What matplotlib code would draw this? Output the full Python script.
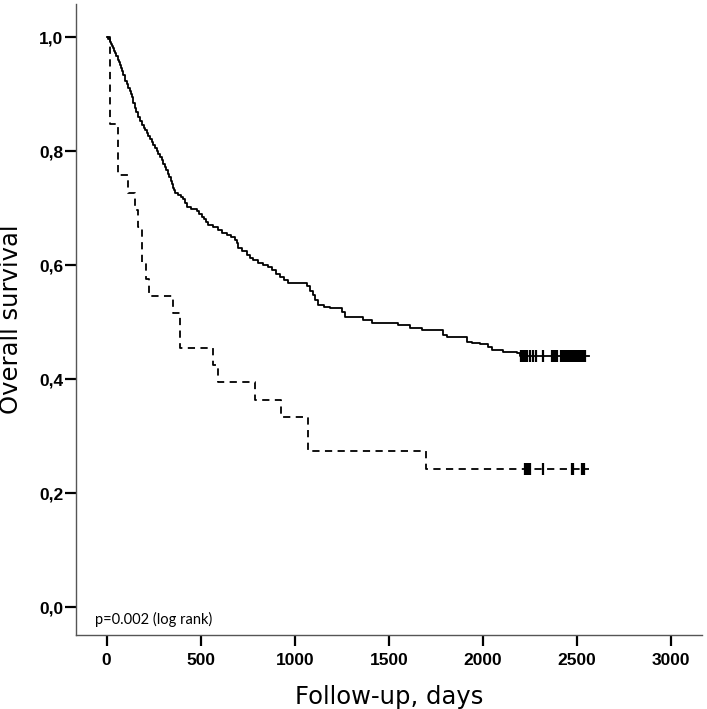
import numpy as np
import matplotlib
matplotlib.use("Agg")
import matplotlib.pyplot as plt

# Kaplan-Meier curves (days, survival after the step)
solid_days = [0, 9, 16, 22, 27, 33, 38, 44, 52, 60, 66, 71, 77, 83, 88, 95, 100,
              106, 114, 122, 128, 133, 141, 150, 158, 168, 178, 190, 198, 204,
              212, 222, 230, 240, 248, 257, 266, 275, 283, 292, 300, 310, 318,
              327, 334, 340, 346, 352, 358, 363, 380, 395, 407, 415, 425, 450,
              478, 490, 505, 520, 530, 540, 565, 593, 615, 638, 660, 682, 692,
              700, 720, 744, 760, 779, 805, 833, 855, 877, 900, 921, 945, 965,
              1063, 1080, 1098, 1110, 1125, 1155, 1187, 1249, 1267, 1364, 1409,
              1550, 1612, 1675, 1789, 1808, 1914, 1940, 1985, 2029, 2047, 2109,
              2180, 2197, 2565]
solid_surv = [1.0, 0.996, 0.992, 0.988, 0.984, 0.980, 0.976, 0.972, 0.966, 0.960,
              0.956, 0.951, 0.946, 0.940, 0.934, 0.928, 0.922, 0.917, 0.911, 0.905,
              0.900, 0.895, 0.884, 0.876, 0.868, 0.860, 0.853, 0.846, 0.841, 0.837,
              0.832, 0.826, 0.821, 0.815, 0.810, 0.805, 0.800, 0.795, 0.790, 0.784,
              0.778, 0.772, 0.766, 0.760, 0.754, 0.748, 0.742, 0.736, 0.731, 0.727,
              0.723, 0.720, 0.716, 0.709, 0.702, 0.698, 0.694, 0.690, 0.685, 0.680,
              0.675, 0.670, 0.666, 0.661, 0.657, 0.653, 0.649, 0.644, 0.638, 0.630,
              0.624, 0.618, 0.613, 0.609, 0.604, 0.600, 0.596, 0.591, 0.585, 0.579,
              0.574, 0.568, 0.563, 0.555, 0.547, 0.539, 0.530, 0.527, 0.524, 0.518,
              0.509, 0.504, 0.499, 0.494, 0.490, 0.486, 0.477, 0.473, 0.465, 0.463,
              0.461, 0.457, 0.451, 0.447, 0.445, 0.440, 0.440]
solid_censor = [2205, 2212, 2220, 2228, 2236, 2250, 2265, 2282, 2320, 2365, 2372,
                2380, 2388, 2395, 2415, 2422, 2429, 2436, 2443, 2450, 2457, 2464,
                2471, 2478, 2485, 2492, 2499, 2506, 2513, 2520, 2527, 2534, 2541]

dashed_days = [0, 18, 62, 115, 152, 165, 190, 207, 225, 350, 390, 565, 590, 790,
               925, 1070, 1700, 2565]
dashed_surv = [1.0, 0.848, 0.758, 0.727, 0.697, 0.667, 0.606, 0.576, 0.545, 0.515,
               0.455, 0.424, 0.394, 0.364, 0.333, 0.273, 0.242, 0.242]
dashed_censor = [2225, 2232, 2240, 2250, 2322, 2472, 2480, 2525, 2537]

x_ticks = [0, 500, 1000, 1500, 2000, 2500, 3000]
y_ticks = [0.0, 0.2, 0.4, 0.6, 0.8, 1.0]
y_ticklabels = ["0,0", "0,2", "0,4", "0,6", "0,8", "1,0"]

fig = plt.figure(figsize=(7.07, 7.09), dpi=100)
ax = fig.add_axes([0.1075, 0.1044, 0.8855, 0.89])

ax.plot(solid_days, solid_surv, drawstyle="steps-post", color="black", lw=1.3)
ax.plot(dashed_days, dashed_surv, drawstyle="steps-post", color="black", lw=1.3,
        dashes=(4, 3))

# censor marks
ax.plot(solid_censor, [solid_surv[-1]] * len(solid_censor), ls="none", marker="|",
        ms=9, mew=1.6, color="black")
ax.plot(dashed_censor, [dashed_surv[-1]] * len(dashed_censor), ls="none", marker="|",
        ms=9, mew=1.6, color="black")

ax.set_xlim(-163, 3165)
ax.set_ylim(-0.049, 1.058)
ax.set_xticks(x_ticks)
ax.set_xticklabels([str(t) for t in x_ticks])
ax.set_yticks(y_ticks)
ax.set_yticklabels(y_ticklabels)

for sp in ["top", "right"]:
    ax.spines[sp].set_visible(False)
for sp in ["left", "bottom"]:
    ax.spines[sp].set_color("#555555")
    ax.spines[sp].set_linewidth(1.0)

ax.tick_params(axis="both", direction="out", length=8, width=1.6, color="black")
ax.tick_params(axis="y", pad=1)
ax.tick_params(axis="x", pad=5)
for lab in ax.get_xticklabels() + ax.get_yticklabels():
    lab.set_fontfamily("Liberation Sans")
    lab.set_fontweight("bold")
    lab.set_fontsize(12.5)

ax.set_xlabel("Follow-up, days", fontsize=17.5, family="DejaVu Sans", labelpad=12)
ax.set_ylabel("Overall survival", fontsize=17.5, family="DejaVu Sans", labelpad=12)

ax.text(-62, -0.021, "p=0.002 (log rank)", fontsize=10.5, family="Lato",
        va="center", ha="left")

fig.savefig("out.png", dpi=100)
